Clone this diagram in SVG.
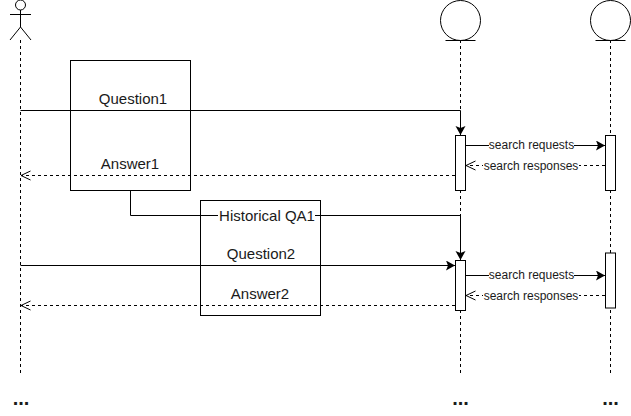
<svg xmlns="http://www.w3.org/2000/svg" width="631" height="416" viewBox="0 0 631 416">
<style>
.s{fill:none;stroke:#000;stroke-width:1}
.d{fill:none;stroke:#000;stroke-width:1;stroke-dasharray:3 3}
.b{fill:#fff;stroke:#000;stroke-width:1}
text{font-family:"Liberation Sans",Arial,sans-serif;fill:#1a1a1a;text-anchor:middle}
.m{font-size:15px}
.n{font-size:12px}
.e{font-size:20px;font-weight:bold}
.bg{fill:#fff;stroke:none}
</style>
<defs>
<marker id="f" markerUnits="userSpaceOnUse" markerWidth="10" markerHeight="11" refX="9" refY="5" orient="auto"><path d="M0,0 L9,5 L0,10 L2,5 Z" fill="#000"/></marker>
<marker id="o" markerUnits="userSpaceOnUse" markerWidth="11" markerHeight="11" refX="10" refY="5" orient="auto"><path d="M0.500,0.500 L10,5 L0.500,9.500" fill="none" stroke="#000"/></marker>
</defs>
<g id="lifelines">
<path class="d" d="M20.500,40V375"/>
<path class="d" d="M460.500,40V375"/>
<path class="d" d="M610.500,40V375"/>
</g>
<g id="actor-user">
<circle class="s" cx="20.500" cy="5" r="5"/>
<path class="s" d="M20.500,10V27M10,14.500H31M20.500,27L10,40M20.500,27L31,40"/>
</g>
<g id="entity-a">
<circle class="s" cx="460.500" cy="20.500" r="20"/>
<path class="s" d="M445.500,40.500H475.500"/>
</g>
<g id="entity-b">
<circle class="s" cx="610.500" cy="20.500" r="20"/>
<path class="s" d="M595.500,40.500H625.500"/>
</g>
<g id="note-qa1"><rect class="s" x="70.500" y="60.500" width="120" height="130"/></g>
<g id="note-qa2"><rect class="s" x="200.500" y="200.500" width="120" height="115"/></g>
<g id="activation-a1"><rect class="b" x="455.500" y="135.500" width="10" height="55"/></g>
<g id="activation-b1"><rect class="b" x="605.500" y="135.500" width="10" height="55"/></g>
<g id="activation-a2"><rect class="b" x="455.500" y="260.500" width="10" height="50"/></g>
<g id="activation-b2"><rect class="b" x="605.500" y="253" width="10" height="55"/></g>
<g id="connectors">
<path class="s" d="M20.500,110.500H460.500V135" marker-end="url(#f)"/>
<path class="d" d="M455,175.500H21" marker-end="url(#o)"/>
<path class="s" d="M465.500,145.500H605" marker-end="url(#f)"/>
<path class="d" d="M605,165.500H466" marker-end="url(#o)"/>
<path class="s" d="M130.500,190.500V215.500H460.500V260" marker-end="url(#f)"/>
<path class="s" d="M20.500,265.500H455" marker-end="url(#f)"/>
<path class="d" d="M455,305.500H21" marker-end="url(#o)"/>
<path class="s" d="M465.500,275.500H605" marker-end="url(#f)"/>
<path class="d" d="M605,295.500H466" marker-end="url(#o)"/>
</g>
<g id="labels">
<text class="m" x="133" y="104">Question1</text>
<text class="m" x="130" y="169">Answer1</text>
<rect class="bg" x="218" y="208" width="97" height="15"/>
<text class="m" x="267" y="221">Historical QA1</text>
<text class="m" x="261" y="259">Question2</text>
<text class="m" x="260" y="299">Answer2</text>
<rect class="bg" x="489" y="138" width="85" height="14"/>
<text class="n" x="531.500" y="149">search requests</text>
<rect class="bg" x="483" y="158" width="96" height="14"/>
<text class="n" x="531" y="170">search responses</text>
<rect class="bg" x="489" y="268" width="85" height="14"/>
<text class="n" x="531.500" y="279">search requests</text>
<rect class="bg" x="483" y="288" width="96" height="14"/>
<text class="n" x="531" y="300">search responses</text>
<text class="e" x="21" y="405">...</text>
<text class="e" x="460.500" y="405">...</text>
<text class="e" x="610.500" y="405">...</text>
</g>
</svg>
